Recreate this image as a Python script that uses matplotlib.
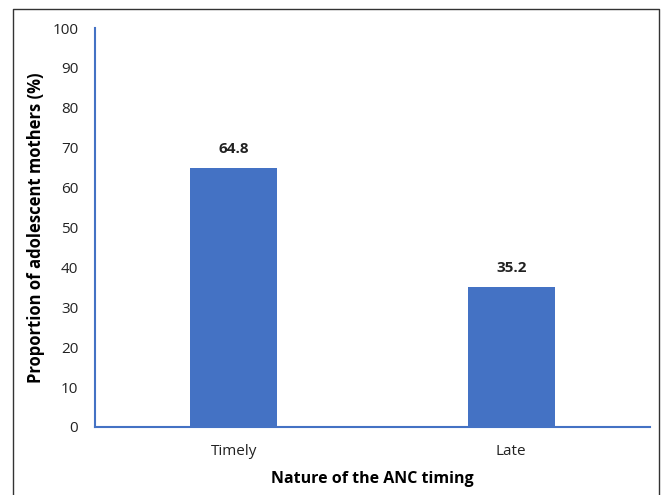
import matplotlib
matplotlib.use("Agg")
import matplotlib.pyplot as plt
from matplotlib.lines import Line2D

# ── data ──────────────────────────────────────────────
categories = ["Timely", "Late"]
values = [64.8, 35.2]
y_ticks = list(range(0, 101, 10))

BLUE = "#4472C4"
plt.rcParams["font.family"] = ["Open Sans", "DejaVu Sans"]

fig = plt.figure(figsize=(6.62, 4.95), dpi=100)
ax = fig.add_axes([95 / 662, 68 / 495, 555 / 662, 399 / 495])

x = range(len(categories))
ax.bar(x, values, width=0.313, color=BLUE, zorder=2)
for xi, v in zip(x, values):
    ax.text(xi, v + 3.0, f"{v:.1f}", ha="center", va="bottom",
            fontsize=11, fontweight="bold", color="#222222")

ax.set_xlim(-0.5, 1.5)
ax.set_ylim(0, 100)
ax.set_yticks(y_ticks)
ax.set_xticks(list(x))
ax.set_xticklabels(categories)
ax.tick_params(axis="both", length=0, labelsize=11, colors="#222222")
ax.tick_params(axis="y", pad=12)
ax.tick_params(axis="x", pad=12)

for s in ("top", "right"):
    ax.spines[s].set_visible(False)
for s in ("left", "bottom"):
    ax.spines[s].set_color(BLUE)
    ax.spines[s].set_linewidth(1.5)

ax.set_ylabel("Proportion of adolescent mothers (%)", fontsize=12,
              fontweight="bold", labelpad=5)
ax.set_xlabel("Nature of the ANC timing", fontsize=11.5,
              fontweight="bold", labelpad=9)

# outer frame (open at the bottom)
x0, x1, yt = 13 / 662, 659 / 662, 1 - 9 / 495
fig.add_artist(Line2D([x0, x0, x1, x1], [0, yt, yt, 0],
                      transform=fig.transFigure, color="#333333", lw=1))

fig.savefig("out.png", dpi=100)
